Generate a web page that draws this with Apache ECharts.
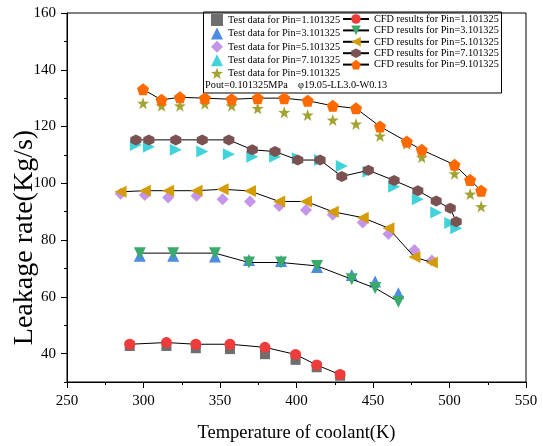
<!DOCTYPE html>
<html>
<head>
<meta charset="utf-8">
<script src="https://cdn.jsdelivr.net/npm/echarts@6/dist/echarts.min.js"></script>
<style>
  html, body { margin: 0; padding: 0; background: #fff; }
  #chart { width: 543px; height: 446px; }
</style>
</head>
<body>
<div id="chart"></div>
<script>
// values
var xP1 = [291.0, 315.0, 334.2, 356.5, 379.4, 399.4, 413.2, 428.5];
var testP1 = [42.7, 42.7, 41.9, 41.6, 39.8, 37.8, 35.2, 32.2];
var cfdP1 = [43.3, 43.9, 43.3, 43.3, 42.2, 39.7, 36.0, 32.6];

var xP3 = [297.6, 319.4, 346.7, 368.9, 389.9, 413.4, 436.1, 451.4, 466.6];
var testP3 = [74.5, 74.5, 74.2, 73.0, 72.6, 70.5, 67.7, 65.4, 61.3];
var cfdP3 = [75.4, 75.4, 75.4, 72.1, 72.1, 70.9, 66.2, 63.1, 58.3];

var xP5 = [285.0, 300.9, 316.1, 334.7, 351.7, 369.6, 388.7, 406.2, 423.7, 443.3, 460.1, 477.1, 488.5];
var testP5 = [96.3, 95.9, 95.0, 95.6, 94.4, 93.6, 92.0, 90.6, 88.9, 86.2, 82.1, 76.5, 72.8];
var cfdP5 = [97.0, 97.4, 97.4, 97.4, 97.9, 97.3, 93.6, 93.6, 90.0, 87.9, 84.2, 74.0, 72.1];

var xP7 = [295.0, 303.5, 321.1, 338.4, 355.8, 371.1, 386.0, 400.8, 415.4, 429.6, 447.0, 463.8, 479.3, 491.3, 500.5, 504.4];
var testP7 = [113.5, 112.9, 111.8, 111.2, 110.2, 109.4, 109.4, 108.8, 108.2, 106.1, 104.1, 98.8, 94.4, 89.7, 86.0, 84.2];
var cfdP7 = [115.3, 115.3, 115.3, 115.3, 115.3, 111.8, 111.2, 108.2, 108.2, 102.4, 104.6, 101.0, 97.4, 93.8, 91.2, 86.5];

var xP9 = [299.7, 311.8, 323.8, 340.1, 357.6, 374.6, 392.0, 407.3, 423.7, 438.9, 454.6, 472.1, 481.9, 503.3, 513.5, 520.7];
var testP9 = [128.2, 127.3, 127.3, 128.0, 127.3, 126.4, 125.0, 124.1, 122.3, 120.9, 116.7, 113.9, 109.2, 103.4, 96.2, 91.8];
var cfdP9 = [133.1, 129.4, 130.3, 130.0, 129.6, 130.0, 130.0, 129.1, 127.3, 126.4, 120.0, 114.7, 111.8, 106.5, 101.2, 97.4];

var pins = ['1.101325', '3.101325', '5.101325', '7.101325', '9.101325'];
var yLabels = [40, 60, 80, 100, 120, 140, 160];
var yMinor = [30, 50, 70, 90, 110, 130, 150];

var FONT = '"Liberation Serif", "Times New Roman", serif';
var HEX = 'path://M0,-10L8.66,-5L8.66,5L0,10L-8.66,5L-8.66,-5Z';
var STAR = 'path://M0,-10L2.35,-3.24L9.51,-3.09L3.8,1.24L5.88,8.09L0,4L-5.88,8.09L-3.8,1.24L-9.51,-3.09L-2.35,-3.24Z';
var PENT = 'path://M0,-10L9.51,-3.09L5.88,8.09L-5.88,8.09L-9.51,-3.09Z';

function pairs(xs, ys) {
    return xs.map(function (x, i) { return [x, ys[i]]; });
}

var groups = [
    {x: xP1, test: testP1, cfd: cfdP1,
     ts: {symbol: 'rect', size: 10, color: '#4a4a4a'},
     cs: {symbol: 'circle', size: 11, color: '#ee3b3b'}},
    {x: xP3, test: testP3, cfd: cfdP3,
     ts: {symbol: 'triangle', size: 12, color: '#1f6fdf'},
     cs: {symbol: 'triangle', size: 12, color: '#3aaa6b', rotate: 180}},
    {x: xP5, test: testP5, cfd: cfdP5,
     ts: {symbol: 'diamond', size: 12, color: '#b57be3'},
     cs: {symbol: 'triangle', size: 12, color: '#d49c08', rotate: 90}},
    {x: xP7, test: testP7, cfd: cfdP7,
     ts: {symbol: 'triangle', size: 12, color: '#10c8cf', rotate: -90},
     cs: {symbol: HEX, size: 11, color: '#7b5252'}},
    {x: xP9, test: testP9, cfd: cfdP9,
     ts: {symbol: STAR, size: 12, color: '#8c8c00'},
     cs: {symbol: PENT, size: 12, color: '#ff6a00'}}
];

var testNames = [], cfdNames = [], series = [];
groups.forEach(function (g, i) {
    var tn = 'Test data for Pin=' + pins[i];
    var cn = 'CFD results for Pin=' + pins[i];
    testNames.push(tn);
    cfdNames.push(cn);
    series.push({
        name: tn,
        type: 'scatter',
        data: pairs(g.x, g.test),
        symbol: g.ts.symbol,
        symbolSize: g.ts.size,
        symbolRotate: g.ts.rotate || 0,
        itemStyle: {color: g.ts.color},
        z: 2
    });
    series.push({
        name: cn,
        type: 'line',
        data: pairs(g.x, g.cfd),
        symbol: g.cs.symbol,
        symbolSize: g.cs.size,
        symbolRotate: g.cs.rotate || 0,
        showAllSymbol: true,
        lineStyle: {color: '#000', width: 1},
        itemStyle: {color: g.cs.color},
        z: 3
    });
});

var legendText = {fontFamily: FONT, fontSize: 10.3, color: '#000'};

var chart = echarts.init(document.getElementById('chart'));
chart.setOption({
    animation: false,
    backgroundColor: '#fff',
    grid: {left: 67, right: 17, top: 13, bottom: 64, show: true, borderColor: '#000', borderWidth: 1,
           containLabel: false, outerBoundsMode: 'none'},
    legend: [
        {data: testNames, orient: 'vertical', left: 211, top: 14, itemWidth: 12, itemHeight: 12,
         itemGap: 1.4, padding: 0, textStyle: legendText},
        {data: cfdNames, orient: 'vertical', left: 342, top: 14, itemWidth: 26, itemHeight: 12,
         itemGap: 1.4, padding: 0, textStyle: legendText}
    ],
    graphic: [
        {type: 'rect', left: 203, top: 11.5, shape: {width: 298, height: 81},
         style: {fill: 'transparent', stroke: '#000', lineWidth: 1}},
        {type: 'text', left: 205, top: 80,
         style: {text: 'Pout=0.101325MPa    φ19.05-LL3.0-W0.13', font: '10.3px ' + FONT, fill: '#000'}}
    ],
    xAxis: {
        type: 'value', min: 250, max: 550, interval: 50,
        name: 'Temperature of coolant(K)', nameLocation: 'middle', nameGap: 42, nameMoveOverlap: false,
        nameTextStyle: {fontFamily: FONT, fontSize: 18.5, color: '#000'},
        axisLine: {lineStyle: {color: '#000', width: 1}},
        axisTick: {show: true, inside: false, length: 6, lineStyle: {color: '#000'}},
        minorTick: {show: true, splitNumber: 2, length: 3, lineStyle: {color: '#000'}},
        splitLine: {show: false},
        axisLabel: {fontFamily: FONT, fontSize: 15, color: '#000', margin: 12}
    },
    yAxis: [
        {
            type: 'value', min: 30, max: 160, interval: 10,
            name: 'Leakage rate(Kg/s)', nameLocation: 'middle', nameGap: 28, nameMoveOverlap: false,
            nameTextStyle: {fontFamily: FONT, fontSize: 28, color: '#000', padding: [0, 80, 0, 0]},
            axisLine: {show: true, lineStyle: {color: '#000', width: 1}},
            axisTick: {show: true, length: 6, customValues: yLabels, lineStyle: {color: '#000'}},
            splitLine: {show: false},
            axisLabel: {fontFamily: FONT, fontSize: 15, color: '#000', margin: 11, customValues: yLabels}
        },
        {
            type: 'value', min: 30, max: 160, interval: 10, position: 'left',
            axisLine: {show: false},
            axisTick: {show: true, length: 3, customValues: yMinor, lineStyle: {color: '#000'}},
            splitLine: {show: false},
            axisLabel: {show: false}
        }
    ],
    series: series
});
</script>
</body>
</html>
